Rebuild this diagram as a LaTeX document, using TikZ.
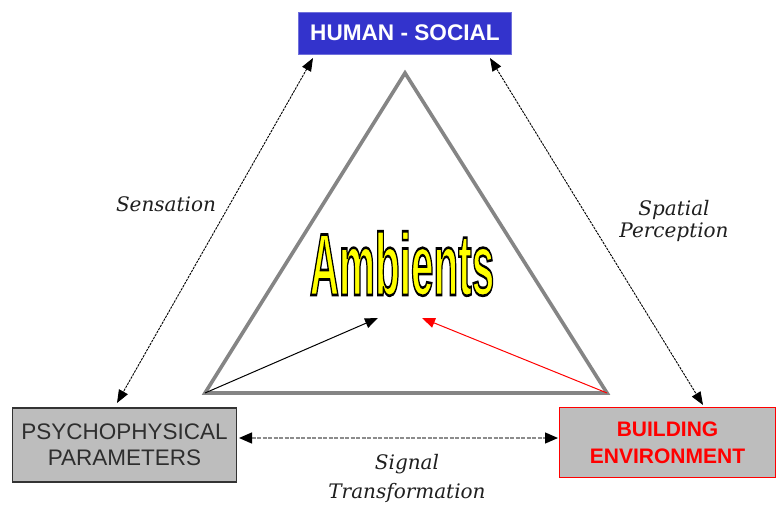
\documentclass[tikz,border=0pt]{standalone}
\usepackage{fontspec}
\usetikzlibrary{arrows.meta,calc}
\setmainfont{Liberation Sans}
\newfontfamily\labfont{DejaVu Serif}
\newfontfamily\ambfont{Liberation Sans Bold}
\definecolor{hsblue}{HTML}{3333CC}
\definecolor{boxgray}{HTML}{BDBDBD}
\definecolor{trigray}{HTML}{858585}
\definecolor{ambyellow}{HTML}{FFFF00}
\newcommand{\outlinedtext}[1]{\special{pdf:literal direct 0 0 0 RG 2 Tr 2.6 w}#1\special{pdf:literal direct 0 Tr}}
\tikzset{
  boxnode/.style={draw, inner sep=0pt, align=center},
  lab/.style={font=\labfont\itshape\fontsize{20}{22}\selectfont, text=black!88, align=center, inner sep=0pt},
  dualarrow/.style={black, line width=0.9pt, dash pattern=on 2.5pt off 1pt, {Triangle[length=13pt,width=10pt]}-{Triangle[length=13pt,width=10pt]}},
  horarrow/.style={black!45, line width=1.3pt, dash pattern=on 4pt off 1.5pt, {Triangle[length=13pt,width=11pt,black]}-{Triangle[length=13pt,width=11pt,black]}},
  inarrow/.style={line width=1pt, -{Triangle[length=13pt,width=10pt]}},
  ambtxt/.style={anchor=base, inner sep=0pt, font=\ambfont\fontsize{88}{88}\selectfont}
}
\begin{document}
\begin{tikzpicture}[x=1pt, y=-1pt]
\useasboundingbox (0,0) rectangle (777,511);
\fill[white] (0,0) rectangle (777,511);

% boxes
\node[boxnode, fill=hsblue, draw=hsblue!70, line width=0.8pt, minimum width=213pt, minimum height=42pt,
  text=white, font=\bfseries\fontsize{22.6}{26}\selectfont] (hs) at (405,33) {HUMAN - SOCIAL};
\node[boxnode, fill=boxgray, draw=black!80, line width=1.6pt, minimum width=224pt, minimum height=74pt,
  text=black!82, font=\fontsize{22.5}{26}\selectfont] (pp) at (124.5,445) {PSYCHOPHYSICAL\\PARAMETERS};
\node[boxnode, fill=boxgray, draw=red, line width=1.4pt, minimum width=216pt, minimum height=70pt,
  text=red, font=\bfseries\fontsize{21}{27}\selectfont] (be) at (667.5,442.5) {BUILDING\\ENVIRONMENT};

% triangle
\coordinate (ta) at (405,73);
\coordinate (tl) at (205,393);
\coordinate (tr) at (607,393);
\draw[trigray, line width=3.6pt, line join=miter] (ta) -- (tl) -- (tr) -- cycle;

% Ambients, yellow with black outline
\node[ambtxt, text=ambyellow] (amb) at (402,295) {\outlinedtext{\scalebox{0.46}[1]{Ambients}}};

% inner arrows
\coordinate (bt) at (378,318);
\coordinate (rt) at (422,318);
\draw[inarrow, black] (tl) -- (bt);
\draw[inarrow, red] (tr) -- (rt);

% outer arrows
\coordinate (s1) at (313,58);
\coordinate (s2) at (117,403);
\coordinate (p1) at (490,58);
\coordinate (p2) at (703,405);
\coordinate (h1) at (239,438);
\coordinate (h2) at (558,438);
\draw[dualarrow] (s1) -- (s2);
\draw[dualarrow] (p1) -- (p2);
\draw[horarrow] (h1) -- (h2);

% labels
\node[lab] (sens) at (166,204) {Sensation};
\node[lab, font=\labfont\itshape\fontsize{20}{22}\selectfont] (spat) at (674,221) {Spatial\\Perception};
\node[lab, font=\labfont\itshape\fontsize{20}{29}\selectfont] (sig) at (407,478) {Signal\\Transformation};
\end{tikzpicture}
\end{document}
